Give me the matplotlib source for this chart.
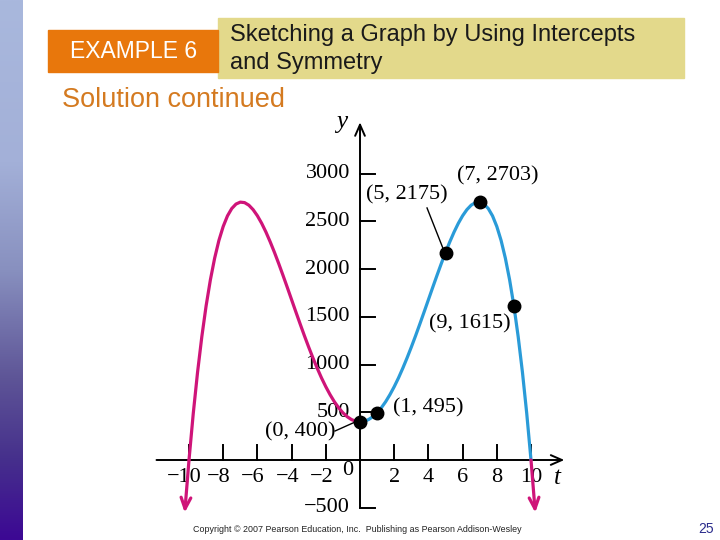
import numpy as np
import matplotlib.pyplot as plt
from matplotlib.patches import Rectangle
from matplotlib.colors import LinearSegmentedColormap

# right half of the curve (left half is its mirror image)
t_vals = [0, 0.25, 0.5, 0.75, 1, 1.25, 1.5, 1.75, 2, 2.25, 2.5, 2.75, 3,
          3.25, 3.5, 3.75, 4, 4.25, 4.5, 4.75, 5, 5.25, 5.5, 5.75, 6,
          6.25, 6.5, 6.75, 7, 7.25, 7.5, 7.75, 8, 8.25, 8.5, 8.75, 9,
          9.25, 9.5, 9.75, 10]
y_vals = [400, 406, 424, 454, 495, 548, 611, 685, 768, 860, 961, 1069, 1183,
          1302, 1426, 1552, 1680, 1808, 1934, 2057, 2175, 2286, 2389, 2481, 2560,
          2624, 2671, 2698, 2703, 2683, 2636, 2559, 2448, 2302, 2116, 1888, 1615,
          1293, 919, 489, 0]
tip = (10.25, -552)

pts_t = [0, 1, 5, 7, 9]
pts_y = [400, 495, 2175, 2703, 1615]
pt_labels = ["(0, 400)", "(1, 495)", "(5, 2175)", "(7, 2703)", "(9, 1615)"]

xticks = [-10, -8, -6, -4, -2, 2, 4, 6, 8, 10]
xtick_labels = ["\u221210", "\u22128", "\u22126", "\u22124", "\u22122", "2", "4", "6", "8", "10"]
yticks = [-500, 500, 1000, 1500, 2000, 2500, 3000]
ytick_labels = ["\u2212500", "500", "1000", "1500", "2000", "2500", "3000"]

PINK = "#cf1479"
BLUE = "#2a9bd8"
SERIF = "Liberation Serif"
SANS = "Liberation Sans"

W, H = 720, 540
fig = plt.figure(figsize=(7.2, 5.4), dpi=100)
fig.patch.set_facecolor("white")

# slide decorations in pixel coordinates
deco = fig.add_axes([0, 0, 1, 1])
deco.set_xlim(0, W)
deco.set_ylim(H, 0)
deco.axis("off")
grad = np.linspace(0, 1, 256).reshape(-1, 1)
cmap = LinearSegmentedColormap.from_list(
    "bar", [(0, "#a9b8dd"), (0.3, "#a3b0d8"), (0.5, "#8890bf"),
            (0.7, "#5e5597"), (0.85, "#46308c"), (1, "#3c0894")])
deco.imshow(grad, cmap=cmap, extent=[0, 23, H, 0], aspect="auto")
deco.add_patch(Rectangle((218, 18), 466, 60, color="#e3d98b", zorder=1))
deco.add_patch(Rectangle((48, 30), 170, 42, color="#e8770c", zorder=2))
deco.text(134, 51, "EXAMPLE 6", color="white", fontsize=16.5, ha="center", va="center",
          family=SANS, zorder=3)
deco.text(230, 35, "Sketching a Graph by Using Intercepts", fontsize=17, ha="left", va="center",
          family=SANS, color="#1a1a1a", zorder=3)
deco.text(230, 63, "and Symmetry", fontsize=17, ha="left", va="center",
          family=SANS, color="#1a1a1a", zorder=3)
deco.text(62, 100, "Solution continued", fontsize=19.5, ha="left", va="center",
          family=SANS, color="#d47a20")
deco.text(357, 529, "Copyright \u00a9 2007 Pearson Education, Inc.  Publishing as Pearson Addison-Wesley",
          fontsize=6.4, ha="center", va="center", family=SANS, color="#222222")
deco.text(706, 529, "25", fontsize=10, ha="center", va="center", family=SANS,
          color="#2b2c8c")

# graph axes positioned so that t=0 -> x=360 px, y=0 -> y=460 px
px_t = 17.1
px_y = 0.0954
tmin, tmax = -12, 12
ymin, ymax = -620, 3620
left = 360 + tmin * px_t
right = 360 + tmax * px_t
bot = 460 - ymin * px_y
top = 460 - ymax * px_y
ax = fig.add_axes([left / W, 1 - bot / H, (right - left) / W, (bot - top) / H])
ax.set_xlim(tmin, tmax)
ax.set_ylim(ymin, ymax)
ax.axis("off")
ax.patch.set_alpha(0)

# axes with arrows
arrow = "->,head_length=0.8,head_width=0.35"
ax.annotate("", xy=(11.95, 0), xytext=(-11.9, 0),
            arrowprops=dict(arrowstyle=arrow, lw=1.4, color="black", shrinkA=0, shrinkB=0))
ax.annotate("", xy=(0, 3540), xytext=(0, -500),
            arrowprops=dict(arrowstyle=arrow, lw=1.4, color="black", shrinkA=0, shrinkB=0))
tick_dx = 15 / px_t
tick_dy = 15 / px_y
for yt, lab in zip(yticks, ytick_labels):
    ax.plot([0, tick_dx], [yt, yt], color="black", lw=1.4)
    ax.text(-10 / px_t, yt, lab, family=SERIF, fontsize=16, ha="right", va="center")
for xt, lab in zip(xticks, xtick_labels):
    ax.plot([xt, xt], [0, tick_dy], color="black", lw=1.4)
    ax.text(xt - (0.25 if lab.startswith("\u2212") else 0), -180, lab, family=SERIF,
            fontsize=16, ha="center", va="center")
ax.text(-0.7, -110, "0", family=SERIF, fontsize=16, ha="center", va="center")
ax.text(11.55, -190, "t", family=SERIF, style="italic", fontsize=18, ha="center", va="center")
ax.text(-1.05, 3540, "y", family=SERIF, style="italic", fontsize=18, ha="center", va="center")

# curve
t = np.array(t_vals)
y = np.array(y_vals)
ax.plot(-t, y, color=PINK, lw=2.3, solid_capstyle="round", solid_joinstyle="round", zorder=3)
ax.plot(t, y, color=BLUE, lw=2.3, solid_capstyle="round", solid_joinstyle="round", zorder=3)
for s in (-1, 1):
    ax.annotate("", xy=(s * tip[0], tip[1]), xytext=(s * t_vals[-1], y_vals[-1]),
                arrowprops=dict(arrowstyle=arrow, lw=2.3, color=PINK, shrinkA=0, shrinkB=0),
                zorder=3)

ax.plot(pts_t, pts_y, "o", color="black", ms=9, zorder=4)

label_pos = [(-3.5, 293), (3.98, 545), (2.75, 2778), (8.07, 2977), (6.43, 1426)]
for (lx, ly), lab in zip(label_pos, pt_labels):
    ax.text(lx, ly, lab, family=SERIF, fontsize=16, ha="center", va="center")
ax.plot([-1.46, -0.2], [304, 405], color="black", lw=1.0)
ax.plot([3.92, 4.85], [2642, 2220], color="black", lw=1.0)

fig.savefig("out.png", dpi=100)
